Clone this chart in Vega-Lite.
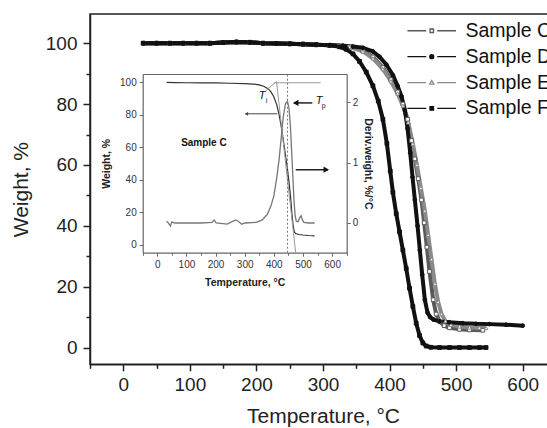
{
  "$schema": "https://vega.github.io/schema/vega-lite/v6.json",
  "width": 466,
  "height": 350.3,
  "autosize": {"type": "none"},
  "padding": {"left": 90, "top": 14, "right": 0, "bottom": 64},
  "background": "white",
  "config": {
    "view": {"stroke": "#222", "strokeWidth": 1.5},
    "font": "Liberation Sans",
    "axis": {"grid": false, "labelFont": "Liberation Sans", "titleFont": "Liberation Sans", "labelOverlap": false, "labelFlush": false}
  },
  "datasets": {
    "main": [
      {"s":"Sample C","T":30,"w":100},{"s":"Sample C","T":50,"w":100},{"s":"Sample C","T":70,"w":100},{"s":"Sample C","T":90,"w":100},{"s":"Sample C","T":110,"w":100},{"s":"Sample C","T":130,"w":100},{"s":"Sample C","T":150,"w":100.2},{"s":"Sample C","T":170,"w":100.4},{"s":"Sample C","T":190,"w":100.3},{"s":"Sample C","T":210,"w":100},{"s":"Sample C","T":230,"w":99.9},{"s":"Sample C","T":250,"w":99.8},{"s":"Sample C","T":270,"w":99.7},{"s":"Sample C","T":290,"w":99.5},{"s":"Sample C","T":310,"w":99.3},{"s":"Sample C","T":325,"w":99.1},{"s":"Sample C","T":340,"w":98.8},{"s":"Sample C","T":360,"w":97.5},{"s":"Sample C","T":375,"w":95.5},{"s":"Sample C","T":390,"w":92},{"s":"Sample C","T":402,"w":88},{"s":"Sample C","T":412,"w":84},{"s":"Sample C","T":420,"w":80},{"s":"Sample C","T":427,"w":75},{"s":"Sample C","T":433,"w":68},{"s":"Sample C","T":438,"w":62},{"s":"Sample C","T":443,"w":55.5},{"s":"Sample C","T":448,"w":48.5},{"s":"Sample C","T":452,"w":41},{"s":"Sample C","T":456,"w":33},{"s":"Sample C","T":460,"w":25},{"s":"Sample C","T":465.5,"w":15.7},{"s":"Sample C","T":470,"w":11},{"s":"Sample C","T":475.5,"w":8.5},{"s":"Sample C","T":482,"w":7.2},{"s":"Sample C","T":490,"w":6.5},{"s":"Sample C","T":505,"w":6},{"s":"Sample C","T":520,"w":5.8},{"s":"Sample C","T":540,"w":5.7},
      {"s":"Sample E","T":30,"w":100},{"s":"Sample E","T":50,"w":100},{"s":"Sample E","T":70,"w":100},{"s":"Sample E","T":90,"w":100},{"s":"Sample E","T":110,"w":100},{"s":"Sample E","T":130,"w":100},{"s":"Sample E","T":150,"w":100.2},{"s":"Sample E","T":170,"w":100.4},{"s":"Sample E","T":190,"w":100.3},{"s":"Sample E","T":210,"w":100},{"s":"Sample E","T":230,"w":99.9},{"s":"Sample E","T":250,"w":99.8},{"s":"Sample E","T":270,"w":99.7},{"s":"Sample E","T":290,"w":99.5},{"s":"Sample E","T":310,"w":99.3},{"s":"Sample E","T":325,"w":99.1},{"s":"Sample E","T":340,"w":98.8},{"s":"Sample E","T":360,"w":97.3},{"s":"Sample E","T":375,"w":95},{"s":"Sample E","T":390,"w":91.5},{"s":"Sample E","T":402,"w":87.5},{"s":"Sample E","T":412,"w":83.5},{"s":"Sample E","T":420,"w":79.5},{"s":"Sample E","T":428,"w":74},{"s":"Sample E","T":435,"w":67},{"s":"Sample E","T":441,"w":60},{"s":"Sample E","T":447,"w":52.5},{"s":"Sample E","T":453,"w":45},{"s":"Sample E","T":458,"w":37},{"s":"Sample E","T":463,"w":29},{"s":"Sample E","T":468,"w":21},{"s":"Sample E","T":473,"w":15},{"s":"Sample E","T":478,"w":11},{"s":"Sample E","T":484,"w":8.7},{"s":"Sample E","T":492,"w":7.5},{"s":"Sample E","T":505,"w":6.9},{"s":"Sample E","T":520,"w":6.6},{"s":"Sample E","T":535,"w":6.5},{"s":"Sample E","T":545,"w":6.4},
      {"s":"Sample D","T":30,"w":100},{"s":"Sample D","T":50,"w":100},{"s":"Sample D","T":70,"w":100},{"s":"Sample D","T":90,"w":100},{"s":"Sample D","T":110,"w":100},{"s":"Sample D","T":130,"w":100},{"s":"Sample D","T":150,"w":100.2},{"s":"Sample D","T":170,"w":100.4},{"s":"Sample D","T":190,"w":100.3},{"s":"Sample D","T":210,"w":100},{"s":"Sample D","T":230,"w":99.9},{"s":"Sample D","T":250,"w":99.8},{"s":"Sample D","T":270,"w":99.7},{"s":"Sample D","T":290,"w":99.5},{"s":"Sample D","T":310,"w":99.4},{"s":"Sample D","T":330,"w":99.2},{"s":"Sample D","T":345,"w":98.9},{"s":"Sample D","T":360,"w":98.5},{"s":"Sample D","T":375,"w":97.3},{"s":"Sample D","T":385,"w":95.5},{"s":"Sample D","T":395,"w":93},{"s":"Sample D","T":405,"w":89.5},{"s":"Sample D","T":412,"w":86},{"s":"Sample D","T":418,"w":82.5},{"s":"Sample D","T":423,"w":78},{"s":"Sample D","T":427,"w":72},{"s":"Sample D","T":431,"w":64},{"s":"Sample D","T":434.5,"w":56},{"s":"Sample D","T":438,"w":48.5},{"s":"Sample D","T":442,"w":40},{"s":"Sample D","T":445.5,"w":32},{"s":"Sample D","T":449,"w":24},{"s":"Sample D","T":453,"w":15.7},{"s":"Sample D","T":457,"w":11.5},{"s":"Sample D","T":461,"w":10},{"s":"Sample D","T":466,"w":9.2},{"s":"Sample D","T":475,"w":8.6},{"s":"Sample D","T":490,"w":8.3},{"s":"Sample D","T":510,"w":8},{"s":"Sample D","T":530,"w":7.8},{"s":"Sample D","T":550,"w":7.7},{"s":"Sample D","T":575,"w":7.5},{"s":"Sample D","T":600,"w":7.2},
      {"s":"Sample F","T":30,"w":100},{"s":"Sample F","T":50,"w":100},{"s":"Sample F","T":70,"w":100},{"s":"Sample F","T":90,"w":100},{"s":"Sample F","T":110,"w":100},{"s":"Sample F","T":130,"w":100},{"s":"Sample F","T":150,"w":100.2},{"s":"Sample F","T":170,"w":100.4},{"s":"Sample F","T":190,"w":100.3},{"s":"Sample F","T":210,"w":100},{"s":"Sample F","T":230,"w":99.9},{"s":"Sample F","T":250,"w":99.8},{"s":"Sample F","T":270,"w":99.7},{"s":"Sample F","T":290,"w":99.5},{"s":"Sample F","T":310,"w":99.3},{"s":"Sample F","T":325,"w":98.8},{"s":"Sample F","T":335,"w":98},{"s":"Sample F","T":345,"w":96.5},{"s":"Sample F","T":355,"w":94},{"s":"Sample F","T":365,"w":90.5},{"s":"Sample F","T":375,"w":86},{"s":"Sample F","T":383,"w":81},{"s":"Sample F","T":390,"w":75},{"s":"Sample F","T":396,"w":67},{"s":"Sample F","T":401,"w":58},{"s":"Sample F","T":405,"w":51},{"s":"Sample F","T":410,"w":44},{"s":"Sample F","T":415,"w":38},{"s":"Sample F","T":420,"w":32},{"s":"Sample F","T":425,"w":26},{"s":"Sample F","T":430,"w":19.5},{"s":"Sample F","T":435,"w":13.5},{"s":"Sample F","T":440,"w":8},{"s":"Sample F","T":445,"w":4},{"s":"Sample F","T":450,"w":1.5},{"s":"Sample F","T":455,"w":0.5},{"s":"Sample F","T":462,"w":0.1},{"s":"Sample F","T":475,"w":0},{"s":"Sample F","T":490,"w":0},{"s":"Sample F","T":505,"w":0},{"s":"Sample F","T":520,"w":0},{"s":"Sample F","T":535,"w":0},{"s":"Sample F","T":545,"w":0}
    ],
    "inset_w": [
      {"T":32,"w":99.8},{"T":60,"w":99.7},{"T":100,"w":99.6},{"T":150,"w":99.5},{"T":200,"w":99.5},{"T":250,"w":99.3},{"T":300,"w":99.1},{"T":330,"w":98.8},{"T":350,"w":98.3},{"T":365,"w":97.5},{"T":380,"w":96},{"T":390,"w":94},{"T":400,"w":91},{"T":410,"w":86},{"T":418,"w":80},{"T":425,"w":73},{"T":432,"w":65},{"T":440,"w":55},{"T":447,"w":46},{"T":453,"w":37},{"T":458,"w":28},{"T":462,"w":19},{"T":466,"w":12},{"T":470,"w":8},{"T":475,"w":6.8},{"T":485,"w":6.2},{"T":500,"w":5.9},{"T":520,"w":5.6},{"T":540,"w":5.4}
    ],
    "inset_d": [
      {"T":32,"d":0.03},{"T":38,"d":0.0},{"T":45,"d":-0.05},{"T":50,"d":0.02},{"T":60,"d":0.0},{"T":100,"d":0.0},{"T":150,"d":0.0},{"T":188,"d":0.01},{"T":195,"d":0.05},{"T":202,"d":0.0},{"T":240,"d":-0.02},{"T":260,"d":0.03},{"T":270,"d":0.05},{"T":280,"d":0.02},{"T":290,"d":-0.02},{"T":300,"d":0.0},{"T":340,"d":0.01},{"T":360,"d":0.05},{"T":377,"d":0.14},{"T":390,"d":0.28},{"T":400,"d":0.45},{"T":410,"d":0.75},{"T":418,"d":1.05},{"T":425,"d":1.4},{"T":432,"d":1.75},{"T":440,"d":1.98},{"T":447,"d":2.02},{"T":452,"d":1.9},{"T":457,"d":1.6},{"T":461,"d":1.2},{"T":465,"d":0.8},{"T":469,"d":0.38},{"T":473,"d":0.12},{"T":477,"d":0.03},{"T":483,"d":0.02},{"T":490,"d":0.1},{"T":494,"d":0.12},{"T":497,"d":0.06},{"T":503,"d":0.01},{"T":520,"d":0.0},{"T":540,"d":0.0}
    ],
    "tangents": [
      {"g":"h","T":400,"w":99.6},{"g":"h","T":561,"w":99.6},
      {"g":"s","T":409,"w":100.5},{"g":"s","T":475,"w":-5},
      {"g":"lead","T":371,"w":94.6},{"g":"lead","T":407,"w":100}
    ],
    "vline": [{"T":447,"w":-5},{"T":447,"w":105}],
    "arrows": [
      {"g":"L","T":302,"w":80.5},{"g":"L","T":412,"w":80.5},
      {"g":"R","T":475,"w":46.1},{"g":"R","T":586,"w":46.1},
      {"g":"P","T":469,"w":87.2},{"g":"P","T":532,"w":87.2}
    ],
    "heads": [
      {"g":"L","T":306,"w":80.5},
      {"g":"R","T":580,"w":46.1},
      {"g":"P","T":475,"w":87.2}
    ],
    "labels": [
      {"t":"T","T":360,"w":91.2},
      {"t":"T","T":555,"w":88.1}
    ],
    "subs": [
      {"t":"i","T":375,"w":88.3},
      {"t":"p","T":571,"w":85.4}
    ],
    "sample": [{"t":"Sample C","T":160,"w":62.3}]
  },
  "layer": [
    {
      "data": {"name": "main"},
      "encoding": {
        "x": {"field": "T", "type": "quantitative",
          "scale": {"domain": [-50, 650], "nice": false, "zero": false},
          "axis": {"values": [-50,0,50,100,150,200,250,300,350,400,450,500,550,600,650],
            "labelExpr": "datum.value % 100 === 0 && datum.value >= 0 && datum.value <= 600 ? datum.label : ''",
            "tickSize": {"condition": {"test": "datum.value % 100 === 0", "value": 6.5}, "value": 4},
            "labelFontSize": 19, "labelColor": "#222", "labelPadding": 5,
            "tickColor": "#222", "tickWidth": 1.5, "domainColor": "#222", "domainWidth": 1.5,
            "title": "Temperature, °C", "titleFontSize": 21, "titleFontWeight": "normal", "titleColor": "#222", "titlePadding": 11}},
        "y": {"field": "w", "type": "quantitative",
          "scale": {"domain": [-5.5, 109.6], "nice": false, "zero": false},
          "axis": {"values": [0,10,20,30,40,50,60,70,80,90,100],
            "labelExpr": "datum.value % 20 === 0 ? datum.label : ''",
            "tickSize": {"condition": {"test": "datum.value % 20 === 0", "value": 7}, "value": 4},
            "labelFontSize": 19, "labelColor": "#222", "labelPadding": 6,
            "tickColor": "#222", "tickWidth": 1.5, "domainColor": "#222", "domainWidth": 1.5,
            "title": "Weight, %", "titleFontSize": 21, "titleFontWeight": "normal", "titleColor": "#222", "titlePadding": 14}}
      },
      "layer": [
        {
          "mark": {"type": "line", "strokeJoin": "round"},
          "encoding": {
            "strokeWidth": {"value": 4},
            "color": {"field": "s", "type": "nominal",
              "scale": {"domain": ["Sample C","Sample D","Sample E","Sample F"], "range": ["#5a5a5a","#111111","#8a8a8a","#111111"]},
              "legend": {
                "orient": "none", "legendX": 332, "legendY": 7, "title": null, "padding": 0,
                "labelFont": "Liberation Sans", "labelFontSize": 19.5, "labelColor": "#111", "labelOffset": 24,
                "symbolSize": 100, "symbolStrokeWidth": 1.3, "symbolStrokeColor": "#777", "rowPadding": 4.9,
                "symbolType": "M-4.86,0L-1.1,0M1.1,0L4.86,0",
                "encode": {"symbols": {"update": {
                  "shape": {"signal": "datum.value === 'Sample D' ? 'M-4.86,0L-1.1,0M1.1,0L4.86,0M-0.4,0A0.4,0.4,0,1,0,0.4,0A0.4,0.4,0,1,0,-0.4,0Z' : datum.value === 'Sample E' ? 'M-4.86,0L-1.1,0M1.1,0L4.86,0M0,-0.42L0.42,0.32L-0.42,0.32Z' : 'M-4.86,0L-1.1,0M1.1,0L4.86,0M-0.35,-0.35L0.35,-0.35L0.35,0.35L-0.35,0.35Z'"},
                  "fill": {"signal": "datum.value === 'Sample D' || datum.value === 'Sample F' ? '#111' : '#fff'"},
                  "stroke": {"value": "#777"},
                  "strokeWidth": {"value": 1.3}
                }}}
              }}
          }
        },
        {
          "mark": {"type": "point", "size": 14, "strokeWidth": 1, "opacity": 1},
          "encoding": {
            "shape": {"condition": [{"test": "datum.s === 'Sample D'", "value": "circle"}, {"test": "datum.s === 'Sample E'", "value": "triangle-up"}], "value": "square"},
            "fill": {"condition": [{"test": "datum.s === 'Sample D' || datum.s === 'Sample F'", "value": "#111111"}], "value": "#ffffff"},
            "stroke": {"condition": [{"test": "datum.s === 'Sample C'", "value": "#5a5a5a"}, {"test": "datum.s === 'Sample E'", "value": "#8a8a8a"}], "value": "#111111"}
          }
        }
      ]
    },
    {
      "encoding": {
        "x": {"field": "T", "type": "quantitative",
          "scale": {"domain": [-50, 650], "range": [52.7, 256.7], "nice": false, "zero": false},
          "axis": {"orient": "bottom", "offset": -111.6,
            "values": [-50,0,50,100,150,200,250,300,350,400,450,500,550,600,650],
            "labelExpr": "datum.value % 100 === 0 && datum.value >= 0 && datum.value <= 600 ? datum.label : ''",
            "tickSize": {"condition": {"test": "datum.value % 100 === 0", "value": 3.5}, "value": 2.5},
            "labelFontSize": 10, "labelColor": "#333", "labelPadding": 3,
            "tickColor": "#666", "tickWidth": 1, "domainColor": "#666", "domainWidth": 1.2,
            "title": "Temperature, °C", "titleFontSize": 10.5, "titleFontWeight": "bold", "titleColor": "#222", "titlePadding": 8}},
        "y": {"field": "w", "type": "quantitative",
          "scale": {"domain": [-5, 105], "range": [238.7, 60], "nice": false, "zero": false},
          "axis": {"orient": "left", "offset": -52.7,
            "values": [0,20,40,60,80,100],
            "tickSize": 3.5, "labelFontSize": 10, "labelColor": "#333", "labelPadding": 3,
            "tickColor": "#666", "tickWidth": 1, "domainColor": "#666", "domainWidth": 1.2,
            "title": "Weight, %", "titleFontSize": 10.5, "titleFontWeight": "bold", "titleColor": "#222", "titlePadding": 8}}
      },
      "layer": [
        {"data": {"name": "inset_w"}, "mark": {"type": "line", "stroke": "#333", "strokeWidth": 1.2}},
        {"data": {"name": "tangents"}, "mark": {"type": "line", "stroke": "#9a9a9a", "strokeWidth": 1}, "encoding": {"detail": {"field": "g", "type": "nominal"}}},
        {"data": {"name": "vline"}, "mark": {"type": "line", "stroke": "#777", "strokeWidth": 1, "strokeDash": [2, 2]}},
        {"data": {"name": "arrows"}, "transform": [{"filter": "datum.g === 'L'"}], "mark": {"type": "line", "stroke": "#444", "strokeWidth": 1}},
        {"data": {"name": "arrows"}, "transform": [{"filter": "datum.g !== 'L'"}], "mark": {"type": "line", "stroke": "#222", "strokeWidth": 1.5}, "encoding": {"detail": {"field": "g", "type": "nominal"}}},
        {"data": {"name": "heads"}, "transform": [{"filter": "datum.g === 'L'"}], "mark": {"type": "point", "shape": "triangle-left", "filled": true, "color": "#444", "size": 14, "opacity": 1}},
        {"data": {"name": "heads"}, "transform": [{"filter": "datum.g === 'P'"}], "mark": {"type": "point", "shape": "triangle-left", "filled": true, "color": "#111", "size": 40, "opacity": 1}},
        {"data": {"name": "heads"}, "transform": [{"filter": "datum.g === 'R'"}], "mark": {"type": "point", "shape": "triangle-right", "filled": true, "color": "#111", "size": 40, "opacity": 1}},
        {"data": {"name": "labels"}, "mark": {"type": "text", "font": "Liberation Sans", "fontSize": 11, "fontStyle": "italic", "color": "#111", "align": "center", "baseline": "middle"}, "encoding": {"text": {"field": "t"}}},
        {"data": {"name": "subs"}, "mark": {"type": "text", "font": "Liberation Sans", "fontSize": 7, "color": "#111", "align": "center", "baseline": "middle"}, "encoding": {"text": {"field": "t"}}},
        {"data": {"name": "sample"}, "mark": {"type": "text", "font": "Liberation Sans", "fontSize": 10, "fontWeight": "bold", "color": "#111", "align": "center", "baseline": "middle"}, "encoding": {"text": {"field": "t"}}}
      ]
    },
    {
      "data": {"name": "inset_d"},
      "mark": {"type": "line", "stroke": "#777", "strokeWidth": 1.3},
      "encoding": {
        "x": {"field": "T", "type": "quantitative",
          "scale": {"domain": [-50, 650], "range": [52.7, 256.7], "nice": false, "zero": false},
          "axis": {"orient": "top", "offset": -60, "labels": false, "ticks": false, "title": null, "domainColor": "#666", "domainWidth": 1.2}},
        "y": {"field": "d", "type": "quantitative",
          "scale": {"domain": [-0.493, 2.472], "range": [238.7, 60], "nice": false, "zero": false},
          "axis": {"orient": "right", "offset": -209.3,
            "values": [0, 0.5, 1, 1.5, 2], "format": "d",
            "labelExpr": "datum.value % 1 === 0 ? datum.label : ''",
            "tickSize": {"condition": {"test": "datum.value % 1 === 0", "value": 3.5}, "value": 2.5},
            "labelFontSize": 10, "labelColor": "#333", "labelPadding": 2,
            "tickColor": "#666", "tickWidth": 1, "domainColor": "#666", "domainWidth": 1.2,
            "title": "Deriv.weight, %/°C", "titleFontSize": 10.5, "titleFontWeight": "bold", "titleColor": "#222", "titlePadding": 5}}
      }
    }
  ],
  "resolve": {"scale": {"x": "independent", "y": "independent"}}
}
